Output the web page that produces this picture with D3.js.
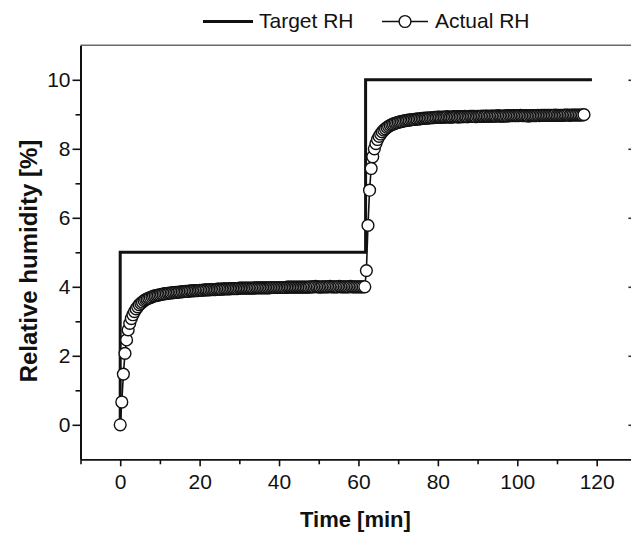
<!DOCTYPE html>
<html>
<head>
<meta charset="utf-8">
<script src="https://cdn.jsdelivr.net/npm/d3@7"></script>
<style>
  body { margin: 0; background: #fff; }
  svg { display: block; font-family: "Liberation Sans", Arial, sans-serif; }
  .axis path, .axis line { stroke: #111; }
  .axis text { font-size: 21px; fill: #111; font-family: "Liberation Sans", Arial, sans-serif; }
</style>
</head>
<body>
<div id="chart"></div>
<script>
// target set point
var targetTime = [0, 0, 61.8, 61.8, 118.8];
var targetRH   = [0, 5, 5, 10, 10];

var actualTime = [
  0,0.4,0.8,1.2,1.6,2,2.4,2.8,3.2,3.6,
  4,4.4,4.8,5.2,5.6,6,6.4,6.8,7.2,7.6,
  8,8.4,8.8,9.2,9.6,10,10.4,10.8,11.2,11.6,
  12,12.4,12.8,13.2,13.6,14,14.4,14.8,15.2,15.6,
  16,16.4,16.8,17.2,17.6,18,18.4,18.8,19.2,19.6,
  20,20.4,20.8,21.2,21.6,22,22.4,22.8,23.2,23.6,
  24,24.4,24.8,25.2,25.6,26,26.4,26.8,27.2,27.6,
  28,28.4,28.8,29.2,29.6,30,30.4,30.8,31.2,31.6,
  32,32.4,32.8,33.2,33.6,34,34.4,34.8,35.2,35.6,
  36,36.4,36.8,37.2,37.6,38,38.4,38.8,39.2,39.6,
  40,40.4,40.8,41.2,41.6,42,42.4,42.8,43.2,43.6,
  44,44.4,44.8,45.2,45.6,46,46.4,46.8,47.2,47.6,
  48,48.4,48.8,49.2,49.6,50,50.4,50.8,51.2,51.6,
  52,52.4,52.8,53.2,53.6,54,54.4,54.8,55.2,55.6,
  56,56.4,56.8,57.2,57.6,58,58.4,58.8,59.2,59.6,
  60,60.4,60.8,61.2,61.6,62,62.4,62.8,63.2,63.6,
  64,64.4,64.8,65.2,65.6,66,66.4,66.8,67.2,67.6,
  68,68.4,68.8,69.2,69.6,70,70.4,70.8,71.2,71.6,
  72,72.4,72.8,73.2,73.6,74,74.4,74.8,75.2,75.6,
  76,76.4,76.8,77.2,77.6,78,78.4,78.8,79.2,79.6,
  80,80.4,80.8,81.2,81.6,82,82.4,82.8,83.2,83.6,
  84,84.4,84.8,85.2,85.6,86,86.4,86.8,87.2,87.6,
  88,88.4,88.8,89.2,89.6,90,90.4,90.8,91.2,91.6,
  92,92.4,92.8,93.2,93.6,94,94.4,94.8,95.2,95.6,
  96,96.4,96.8,97.2,97.6,98,98.4,98.8,99.2,99.6,
  100,100.4,100.8,101.2,101.6,102,102.4,102.8,103.2,103.6,
  104,104.4,104.8,105.2,105.6,106,106.4,106.8,107.2,107.6,
  108,108.4,108.8,109.2,109.6,110,110.4,110.8,111.2,111.6,
  112,112.4,112.8,113.2,113.6,114,114.4,114.8,115.2,115.6,
  116,116.4,116.8
];
var actualRH = [
  0,0.66,1.47,2.07,2.46,2.75,2.94,3.08,3.19,3.28,
  3.36,3.42,3.48,3.52,3.56,3.60,3.63,3.65,3.67,3.69,
  3.71,3.73,3.74,3.75,3.76,3.77,3.78,3.79,3.80,3.80,
  3.81,3.82,3.82,3.83,3.83,3.84,3.84,3.85,3.85,3.86,
  3.86,3.87,3.87,3.87,3.88,3.88,3.88,3.89,3.89,3.89,
  3.90,3.90,3.90,3.91,3.91,3.91,3.91,3.92,3.92,3.92,
  3.92,3.93,3.93,3.93,3.93,3.94,3.94,3.94,3.94,3.94,
  3.95,3.95,3.95,3.95,3.95,3.96,3.96,3.96,3.96,3.96,
  3.96,3.96,3.96,3.96,3.96,3.97,3.97,3.97,3.97,3.97,
  3.97,3.97,3.97,3.97,3.97,3.98,3.98,3.98,3.98,3.98,
  3.98,3.98,3.98,3.98,3.98,3.99,3.99,3.99,3.99,3.99,
  3.99,3.99,3.99,3.99,3.99,3.99,3.99,3.99,3.99,3.99,
  4.00,4.00,4.00,4.01,4.00,4.00,3.99,4.00,4.00,4.00,
  4.00,4.00,4.01,4.00,4.00,4.00,4.00,4.00,4.01,4.00,
  4.00,4.00,4.00,4.00,4.00,4.01,4.00,4.00,4.00,4.00,
  4.00,4.00,4.00,4.00,4.00,4.47,5.78,6.80,7.43,7.77,
  8.00,8.15,8.27,8.36,8.43,8.49,8.54,8.58,8.62,8.65,
  8.68,8.70,8.72,8.74,8.75,8.77,8.78,8.79,8.80,8.81,
  8.82,8.83,8.83,8.84,8.85,8.85,8.86,8.86,8.87,8.87,
  8.88,8.88,8.89,8.89,8.89,8.90,8.90,8.90,8.91,8.91,
  8.92,8.92,8.91,8.92,8.92,8.92,8.93,8.92,8.92,8.92,
  8.93,8.93,8.93,8.92,8.93,8.93,8.93,8.94,8.93,8.93,
  8.94,8.94,8.94,8.94,8.93,8.94,8.94,8.94,8.95,8.94,
  8.95,8.95,8.94,8.95,8.95,8.95,8.95,8.95,8.96,8.95,
  8.95,8.95,8.95,8.96,8.95,8.96,8.96,8.96,8.96,8.96,
  8.96,8.96,8.97,8.96,8.96,8.96,8.96,8.95,8.96,8.96,
  8.96,8.96,8.96,8.97,8.96,8.97,8.97,8.97,8.97,8.97,
  8.97,8.97,8.97,8.97,8.98,8.97,8.97,8.97,8.97,8.97,
  8.98,8.98,8.98,8.97,8.98,8.98,8.98,8.98,8.98,8.98,
  8.98,8.98,8.99
];

var xMajor = [0, 20, 40, 60, 80, 100, 120];
var xMinor = [-10, 10, 30, 50, 70, 90, 110, 130];
var yMajor = [0, 2, 4, 6, 8, 10];
var yMinor = [1, 3, 5, 7, 9];

var width = 631, height = 534;
var plotLeft = 80.5, plotRight = 636.4, plotTop = 45.3, plotBottom = 459.3;

var svg = d3.select("#chart").append("svg")
  .attr("width", width)
  .attr("height", height);

var x = d3.scaleLinear().domain([-10, 130]).range([plotLeft, plotRight]);
var y = d3.scaleLinear().domain([-1, 11]).range([plotBottom, plotTop]);

// top frame line (grey)
svg.append("line")
  .attr("x1", plotLeft).attr("x2", plotRight)
  .attr("y1", plotTop).attr("y2", plotTop)
  .attr("stroke", "#6a6a6a").attr("stroke-width", 1.5);

// right side: only inward ticks show up
svg.append("g")
  .attr("transform", "translate(" + plotRight + ",0)")
  .call(d3.axisLeft(y).tickValues(yMajor).tickSize(8).tickFormat("").tickSizeOuter(0))
  .call(function(g) { g.select(".domain").attr("stroke", "#444").attr("stroke-width", 1.5); g.selectAll("line").attr("stroke", "#333").attr("stroke-width", 1.6); });
svg.append("g")
  .attr("transform", "translate(" + plotRight + ",0)")
  .call(d3.axisLeft(y).tickValues(yMinor).tickSize(5).tickFormat("").tickSizeOuter(0))
  .call(function(g) { g.select(".domain").remove(); g.selectAll("line").attr("stroke", "#ddd").attr("stroke-width", 1.2); });

// bottom axis
var xAxisG = svg.append("g")
  .attr("class", "axis")
  .attr("transform", "translate(0," + plotBottom + ")")
  .call(d3.axisBottom(x).tickValues(xMajor).tickSize(7).tickPadding(8).tickSizeOuter(0));
xAxisG.select(".domain").attr("stroke-width", 1.8);
xAxisG.selectAll(".tick line").attr("stroke-width", 1.6);
svg.append("g")
  .attr("class", "axis")
  .attr("transform", "translate(0," + plotBottom + ")")
  .call(d3.axisBottom(x).tickValues(xMinor).tickSize(5).tickFormat("").tickSizeOuter(0))
  .call(function(g) { g.select(".domain").remove(); g.selectAll("line").attr("stroke-width", 1.6); });

// left axis
var yAxisG = svg.append("g")
  .attr("class", "axis")
  .attr("transform", "translate(" + plotLeft + ",0)")
  .call(d3.axisLeft(y).tickValues(yMajor).tickSize(8).tickPadding(2).tickSizeOuter(0));
yAxisG.select(".domain").attr("stroke-width", 2);
yAxisG.selectAll(".tick line").attr("stroke-width", 1.6);
svg.append("g")
  .attr("class", "axis")
  .attr("transform", "translate(" + plotLeft + ",0)")
  .call(d3.axisLeft(y).tickValues(yMinor).tickSize(5).tickFormat("").tickSizeOuter(0))
  .call(function(g) { g.select(".domain").remove(); g.selectAll("line").attr("stroke-width", 1.6); });

// axis titles
svg.append("text")
  .attr("x", (plotLeft + plotRight) / 2 - 3)
  .attr("y", 527)
  .attr("text-anchor", "middle")
  .style("font-size", "22px")
  .style("font-weight", "bold")
  .style("fill", "#111")
  .text("Time [min]");

svg.append("text")
  .attr("transform", "translate(37,261) rotate(-90)")
  .attr("text-anchor", "middle")
  .style("font-size", "24px")
  .style("font-weight", "bold")
  .style("fill", "#111")
  .text("Relative humidity [%]");

// target RH line
var targetData = targetTime.map(function(t, i) { return { t: t, v: targetRH[i] }; });
svg.append("path")
  .datum(targetData)
  .attr("d", d3.line().x(function(d) { return x(d.t); }).y(function(d) { return y(d.v); }))
  .attr("fill", "none")
  .attr("stroke", "#111")
  .attr("stroke-width", 3);

// actual RH line + open circles
var actualData = actualTime.map(function(t, i) { return { t: t, v: actualRH[i] }; });
svg.append("path")
  .datum(actualData)
  .attr("d", d3.line().x(function(d) { return x(d.t); }).y(function(d) { return y(d.v); }))
  .attr("fill", "none")
  .attr("stroke", "#111")
  .attr("stroke-width", 1.6);

svg.append("g").selectAll("circle")
  .data(actualData)
  .enter().append("circle")
  .attr("cx", function(d) { return x(d.t); })
  .attr("cy", function(d) { return y(d.v); })
  .attr("r", 5.9)
  .attr("fill", "#fff")
  .attr("stroke", "#111")
  .attr("stroke-width", 1.4);

// legend
var legend = svg.append("g");
legend.append("line")
  .attr("x1", 203).attr("x2", 253).attr("y1", 21.5).attr("y2", 21.5)
  .attr("stroke", "#111").attr("stroke-width", 3);
legend.append("text")
  .attr("x", 259).attr("y", 27.5)
  .style("font-size", "21px").style("fill", "#111")
  .text("Target RH");
legend.append("line")
  .attr("x1", 382).attr("x2", 428).attr("y1", 21.5).attr("y2", 21.5)
  .attr("stroke", "#111").attr("stroke-width", 1.5);
legend.append("circle")
  .attr("cx", 405).attr("cy", 21.5).attr("r", 5.9)
  .attr("fill", "#fff").attr("stroke", "#111").attr("stroke-width", 1.4);
legend.append("text")
  .attr("x", 435).attr("y", 27.5)
  .style("font-size", "21px").style("fill", "#111")
  .text("Actual RH");
</script>
</body>
</html>
